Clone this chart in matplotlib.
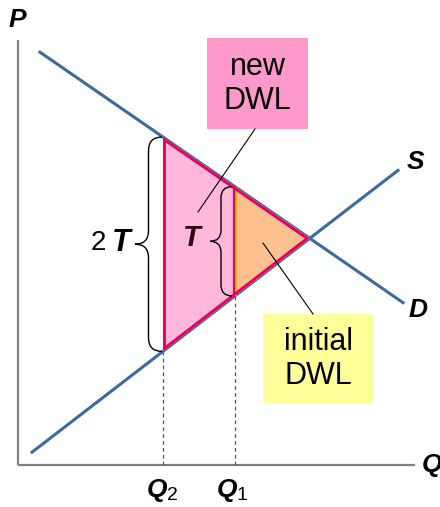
import matplotlib
matplotlib.use("Agg")
import matplotlib.pyplot as plt
import numpy as np
from matplotlib.path import Path
from matplotlib.patches import PathPatch, Polygon, Rectangle

plt.rcParams['font.family'] = ['Liberation Sans', 'DejaVu Sans']

# linear demand / supply (Q on x, P on y)
demand_intercept = 428.0
demand_slope = 0.69
supply_intercept = 2.0
supply_slope = 0.77
demand_q = [22, 385]
supply_q = [14, 380]
q1 = 217   # quantity with tax T
q2 = 145   # quantity with tax 2T


def demand(q):
    return demand_intercept - demand_slope * np.asarray(q)


def supply(q):
    return supply_intercept + supply_slope * np.asarray(q)


def brace(ax, x_end, y_top, y_bot, width, color='black', lw=1.0):
    # curly brace opening to the right, tip pointing left
    yc = (y_top + y_bot) / 2
    xm = x_end - width / 2
    xt = x_end - width
    r = width / 2
    verts = [(x_end, y_top), (xm, y_top), (xm, y_top - r),
             (xm, yc + r), (xm, yc), (xt, yc),
             (xm, yc), (xm, yc - r),
             (xm, y_bot + r), (xm, y_bot), (x_end, y_bot)]
    codes = [Path.MOVETO, Path.CURVE3, Path.CURVE3,
             Path.LINETO, Path.CURVE3, Path.CURVE3,
             Path.CURVE3, Path.CURVE3,
             Path.LINETO, Path.CURVE3, Path.CURVE3]
    ax.add_patch(PathPatch(Path(verts, codes), fc='none', ec=color, lw=lw,
                           zorder=6))


qe = (demand_intercept - supply_intercept) / (demand_slope + supply_slope)
pe = demand(qe)

fig = plt.figure(figsize=(4.4, 5.07), dpi=100)
ax = fig.add_axes([0, 0, 1, 1])
ax.set_xlim(-18, 422)
ax.set_ylim(-42, 465)
ax.axis('off')

blue = '#3A6B9E'
crimson = '#E8005A'

# axes
ax.plot([0, 0], [0, 425], color='#808080', lw=1.6, solid_capstyle='butt')
ax.plot([0, 397], [0, 0], color='#808080', lw=1.6, solid_capstyle='butt')

# dashed guides
for q in (q2, q1):
    ax.plot([q, q], [0, supply(q)], color='#555555', lw=0.9, ls=(0, (3, 2.5)))

# demand and supply
qd = np.array(demand_q)
qs = np.array(supply_q)
ax.plot(qd, demand(qd), color=blue, lw=2.2)
ax.plot(qs, supply(qs), color=blue, lw=2.2)

# deadweight loss triangles
big = [(q2, demand(q2)), (q2, supply(q2)), (qe, pe)]
small = [(q1, demand(q1)), (q1, supply(q1)), (qe, pe)]
big_fill = Polygon(big, closed=True, fc='#FFB8DA', ec='none', zorder=3)
ax.add_patch(big_fill)
ax.add_patch(Polygon(small, closed=True, fc='#FFC08F', ec='none', zorder=3))
ax.plot([q1 + 1.2, q1 + 1.2], [demand(q1) - 1, supply(q1) + 1],
        color='#FFA500', lw=1.3, zorder=4)
ax.plot([q1 - 1, q1 - 1], [demand(q1), supply(q1)], color='#D0104A',
        lw=1.6, zorder=4)
# outline stroked only on the inside so the blue curves stay visible
edge = Polygon(big, closed=True, fc='none', ec=crimson, lw=4.2, zorder=5)
ax.add_patch(edge)
edge.set_clip_path(big_fill)

# braces
brace(ax, q2 - 1, demand(q2), supply(q2), 27)
brace(ax, q1 - 3, demand(q1), supply(q1), 22)

bi = dict(fontweight='bold', fontstyle='italic', color='black')
ax.text(112, 222, 'T', ha='right', va='center', fontsize=22, **bi)
ax.text(88, 222, '2', ha='right', va='center', fontsize=20)
ax.text(174, 227, 'T', ha='center', va='center', fontsize=21,
        fontweight='bold', fontstyle='italic', color='#2A0012', zorder=6)

# curve / axis labels
ax.text(-1, 445, 'P', ha='center', va='center', fontsize=19, **bi)
ax.text(397, 303, 'S', ha='center', va='center', fontsize=19, **bi)
ax.text(400, 155, 'D', ha='center', va='center', fontsize=19, **bi)
ax.text(404, 0, 'Q', ha='left', va='center', fontsize=19, **bi)
ax.text(q2 - 6, -25, 'Q', ha='center', va='center', fontsize=19, **bi)
ax.text(q2 + 4, -31, '2', ha='left', va='center', fontsize=14)
ax.text(q1 - 8, -25, 'Q', ha='center', va='center', fontsize=19, **bi)
ax.text(q1 + 1, -31, '1', ha='left', va='center', fontsize=14)

# callout boxes
ax.add_patch(Rectangle((189, 336), 101, 91, fc='#FF99CC', ec='none'))
ax.text(239.5, 381, 'new\nDWL', ha='center', va='center', fontsize=22,
        linespacing=1.15)
ax.plot([237, 180], [336, 253], color='black', lw=0.8, zorder=6)

ax.add_patch(Rectangle((245, 62), 110, 89, fc='#FFFF99', ec='none'))
ax.text(300, 106, 'initial\nDWL', ha='center', va='center', fontsize=22,
        linespacing=1.15)
ax.plot([245, 295], [222, 151], color='black', lw=0.8, zorder=6)

fig.savefig('out.png', dpi=100)
